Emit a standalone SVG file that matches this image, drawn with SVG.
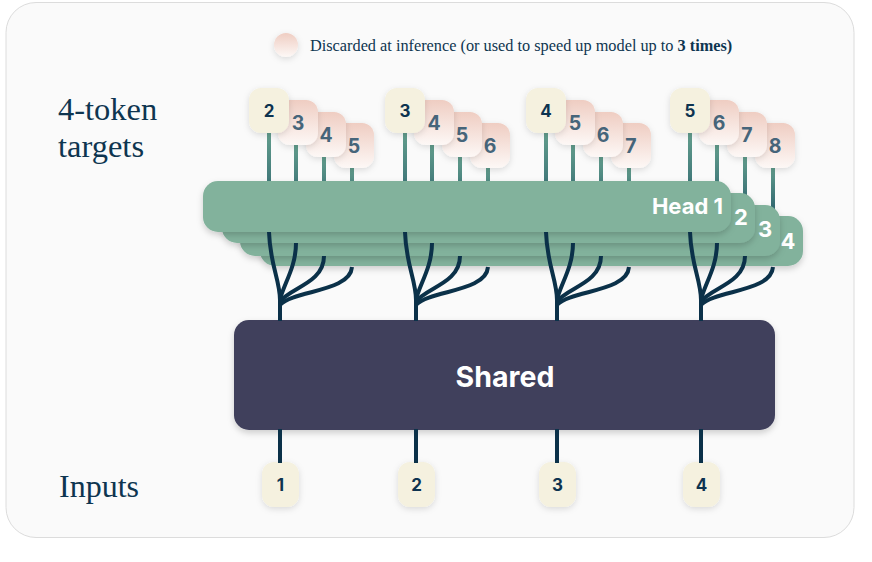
<svg xmlns="http://www.w3.org/2000/svg" width="872" height="562" viewBox="0 0 872 562">
  <defs>
    <linearGradient id="pink" x1="0" y1="0" x2="0" y2="1">
      <stop offset="0" stop-color="#efcdc2"/>
      <stop offset="1" stop-color="#fdf8f6"/>
    </linearGradient>
    <linearGradient id="stem" x1="0" y1="0" x2="0" y2="1">
      <stop offset="0" stop-color="#64a08e"/>
      <stop offset="1" stop-color="#2a5f6c"/>
    </linearGradient>
    <filter id="sh" x="-30%" y="-30%" width="160%" height="160%">
      <feDropShadow dx="0" dy="2" stdDeviation="3" flood-color="#000" flood-opacity="0.13"/>
    </filter>
    <filter id="shh" x="-10%" y="-30%" width="120%" height="170%">
      <feDropShadow dx="0" dy="3" stdDeviation="3" flood-color="#000" flood-opacity="0.18"/>
    </filter>
  </defs>
  <style>
    .serif { font-family: "Liberation Serif", "Times New Roman", serif; fill: #0e3550; }
    .sans { font-family: Inter, "Noto Sans", "DejaVu Sans", sans-serif; font-weight: 700; }
    .cream { fill: #f5f1df; filter: url(#sh); }
    .pink { fill: url(#pink); filter: url(#sh); }
    .clab { font-size: 17px; fill: #0d3350; text-anchor: middle; }
    .plab { font-size: 19.5px; fill: #46657a; text-anchor: middle; }
    .stem { fill: url(#stem); }
    .head { fill: #82b29c; filter: url(#shh); }
    .hlab { font-size: 22px; fill: #ffffff; }
    .conn { fill: none; stroke: #0b3149; stroke-width: 4; stroke-linecap: butt; }
  </style>

  <!-- background -->
  <rect x="6" y="2.5" width="848" height="535" rx="30" fill="#fafafa" stroke="#dcdcdc" stroke-width="1"/>

  <!-- legend -->
  <g id="legend">
    <circle cx="286" cy="45" r="12" class="pink"/>
    <text x="310" y="50.5" class="serif" font-size="16.3">Discarded at inference (or used to speed up model up to <tspan font-weight="700">3 times)</tspan></text>
  </g>

  <!-- side labels -->
  <g id="label-targets">
    <text x="58" y="120" class="serif" font-size="32.5">4-token</text>
    <text x="58" y="157" class="serif" font-size="32.5">targets</text>
  </g>
  <g id="label-inputs">
    <text x="59" y="497" class="serif" font-size="32">Inputs</text>
  </g>

  <!-- target token groups (stems behind heads) -->
  <g id="targets-1" transform="translate(280,0)">
    <rect class="stem" x="-13" y="130" width="4" height="85"/>
    <rect class="stem" x="14" y="142" width="4" height="73"/>
    <rect class="stem" x="42" y="154" width="4" height="61"/>
    <rect class="stem" x="70" y="165" width="4" height="50"/>
    <rect class="pink" x="54" y="123" width="40" height="45" rx="12"/>
    <text class="sans plab" x="74" y="152.5">5</text>
    <rect class="pink" x="26" y="112" width="40" height="45" rx="12"/>
    <text class="sans plab" x="46" y="141.5">4</text>
    <rect class="pink" x="-2" y="100" width="40" height="45" rx="12"/>
    <text class="sans plab" x="18" y="129.5">3</text>
    <rect class="cream" x="-31" y="88" width="40" height="45" rx="12"/>
    <text class="sans clab" x="-11" y="117">2</text>
  </g>
  <g id="targets-2" transform="translate(416,0)">
    <rect class="stem" x="-13" y="130" width="4" height="85"/>
    <rect class="stem" x="14" y="142" width="4" height="73"/>
    <rect class="stem" x="42" y="154" width="4" height="61"/>
    <rect class="stem" x="70" y="165" width="4" height="50"/>
    <rect class="pink" x="54" y="123" width="40" height="45" rx="12"/>
    <text class="sans plab" x="74" y="152.5">6</text>
    <rect class="pink" x="26" y="112" width="40" height="45" rx="12"/>
    <text class="sans plab" x="46" y="141.5">5</text>
    <rect class="pink" x="-2" y="100" width="40" height="45" rx="12"/>
    <text class="sans plab" x="18" y="129.5">4</text>
    <rect class="cream" x="-31" y="88" width="40" height="45" rx="12"/>
    <text class="sans clab" x="-11" y="117">3</text>
  </g>
  <g id="targets-3" transform="translate(557,0)">
    <rect class="stem" x="-13" y="130" width="4" height="85"/>
    <rect class="stem" x="14" y="142" width="4" height="73"/>
    <rect class="stem" x="42" y="154" width="4" height="61"/>
    <rect class="stem" x="70" y="165" width="4" height="50"/>
    <rect class="pink" x="54" y="123" width="40" height="45" rx="12"/>
    <text class="sans plab" x="74" y="152.5">7</text>
    <rect class="pink" x="26" y="112" width="40" height="45" rx="12"/>
    <text class="sans plab" x="46" y="141.5">6</text>
    <rect class="pink" x="-2" y="100" width="40" height="45" rx="12"/>
    <text class="sans plab" x="18" y="129.5">5</text>
    <rect class="cream" x="-31" y="88" width="40" height="45" rx="12"/>
    <text class="sans clab" x="-11" y="117">4</text>
  </g>
  <g id="targets-4" transform="translate(701,0)">
    <rect class="stem" x="-13" y="130" width="4" height="85"/>
    <rect class="stem" x="14" y="142" width="4" height="73"/>
    <rect class="stem" x="42" y="154" width="4" height="61"/>
    <rect class="stem" x="70" y="165" width="4" height="50"/>
    <rect class="pink" x="54" y="123" width="40" height="45" rx="12"/>
    <text class="sans plab" x="74" y="152.5">8</text>
    <rect class="pink" x="26" y="112" width="40" height="45" rx="12"/>
    <text class="sans plab" x="46" y="141.5">7</text>
    <rect class="pink" x="-2" y="100" width="40" height="45" rx="12"/>
    <text class="sans plab" x="18" y="129.5">6</text>
    <rect class="cream" x="-31" y="88" width="40" height="45" rx="12"/>
    <text class="sans clab" x="-11" y="117">5</text>
  </g>

  <!-- heads (back to front) -->
  <g id="head-4">
    <rect class="head" x="260" y="216" width="543" height="50" rx="15"/>
    <text class="sans hlab" x="788" y="249" text-anchor="middle">4</text>
  </g>
  <g id="head-3">
    <rect class="head" x="240" y="205" width="540" height="51" rx="15"/>
    <text class="sans hlab" x="765" y="237" text-anchor="middle">3</text>
  </g>
  <g id="head-2">
    <rect class="head" x="222" y="193" width="533" height="50" rx="15"/>
    <text class="sans hlab" x="741" y="225" text-anchor="middle">2</text>
  </g>
  <g id="head-1">
    <rect class="head" x="203" y="181" width="528" height="51" rx="15"/>
    <text class="sans hlab" x="723" y="214" text-anchor="end">Head 1</text>
  </g>

  <!-- shared trunk -->
  <g id="shared">
    <rect x="234" y="320" width="541" height="110" rx="15" fill="#3f3f5c" filter="url(#shh)"/>
    <text class="sans" x="505" y="387" font-size="28.5" fill="#ffffff" text-anchor="middle">Shared</text>
  </g>

  <!-- inputs -->
  <g id="input-1"><rect class="cream" x="262" y="462" width="37" height="45" rx="12"/><text class="sans clab" x="280.5" y="491">1</text></g>
  <g id="input-2"><rect class="cream" x="398" y="462" width="37" height="45" rx="12"/><text class="sans clab" x="416.5" y="491">2</text></g>
  <g id="input-3"><rect class="cream" x="539" y="462" width="37" height="45" rx="12"/><text class="sans clab" x="557.5" y="491">3</text></g>
  <g id="input-4"><rect class="cream" x="683" y="462" width="37" height="45" rx="12"/><text class="sans clab" x="701.5" y="491">4</text></g>

  <!-- connectors -->
  <g id="connectors">
    <g transform="translate(280,0)">
      <path class="conn" d="M-11,232 C-10,265 0,280 0,300"/>
      <path class="conn" d="M16,243 C16,268 3,285 0,300"/>
      <path class="conn" d="M44,256 C44,284 8,288 0,302"/>
      <path class="conn" d="M72,267 C70,292 14,290 0,305"/>
      <path class="conn" d="M0,296 L0,321"/>
      <path class="conn" d="M0,429 L0,463"/>
    </g>
    <g transform="translate(416,0)">
      <path class="conn" d="M-11,232 C-10,265 0,280 0,300"/>
      <path class="conn" d="M16,243 C16,268 3,285 0,300"/>
      <path class="conn" d="M44,256 C44,284 8,288 0,302"/>
      <path class="conn" d="M72,267 C70,292 14,290 0,305"/>
      <path class="conn" d="M0,296 L0,321"/>
      <path class="conn" d="M0,429 L0,463"/>
    </g>
    <g transform="translate(557,0)">
      <path class="conn" d="M-11,232 C-10,265 0,280 0,300"/>
      <path class="conn" d="M16,243 C16,268 3,285 0,300"/>
      <path class="conn" d="M44,256 C44,284 8,288 0,302"/>
      <path class="conn" d="M72,267 C70,292 14,290 0,305"/>
      <path class="conn" d="M0,296 L0,321"/>
      <path class="conn" d="M0,429 L0,463"/>
    </g>
    <g transform="translate(701,0)">
      <path class="conn" d="M-11,232 C-10,265 0,280 0,300"/>
      <path class="conn" d="M16,243 C16,268 3,285 0,300"/>
      <path class="conn" d="M44,256 C44,284 8,288 0,302"/>
      <path class="conn" d="M72,267 C70,292 14,290 0,305"/>
      <path class="conn" d="M0,296 L0,321"/>
      <path class="conn" d="M0,429 L0,463"/>
    </g>
  </g>
</svg>
